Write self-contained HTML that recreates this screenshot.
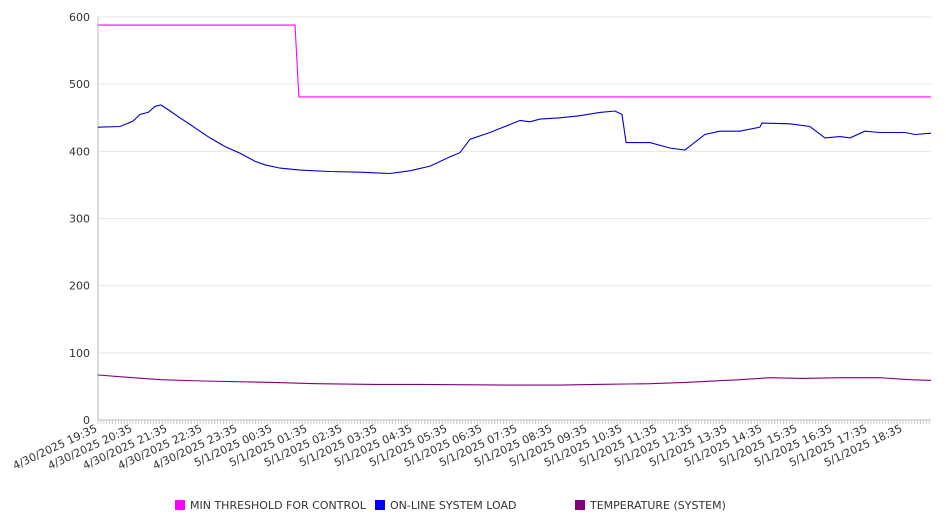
<!DOCTYPE html>
<html><head><meta charset="utf-8"><style>
html,body{margin:0;padding:0;background:#fff;}
svg{display:block;font-family:"DejaVu Sans","Liberation Sans",sans-serif;}
</style></head><body>
<svg id="chart" width="946" height="526"></svg>
<script>
// data (time in hours since 4/30/2025 19:35)
const yTicks=[0,100,200,300,400,500,600];
const xLabels=["4/30/2025 19:35","4/30/2025 20:35","4/30/2025 21:35","4/30/2025 22:35","4/30/2025 23:35","5/1/2025 00:35","5/1/2025 01:35","5/1/2025 02:35","5/1/2025 03:35","5/1/2025 04:35","5/1/2025 05:35","5/1/2025 06:35","5/1/2025 07:35","5/1/2025 08:35","5/1/2025 09:35","5/1/2025 10:35","5/1/2025 11:35","5/1/2025 12:35","5/1/2025 13:35","5/1/2025 14:35","5/1/2025 15:35","5/1/2025 16:35","5/1/2025 17:35","5/1/2025 18:35"];
const threshTimes=[0,5.63,5.74,23.8];
const threshVals=[588,588,481,481];
const loadTimes=[0,0.63,1,1.2,1.43,1.63,1.8,2.06,2.34,2.63,2.91,3.2,3.63,4.06,4.49,4.77,5.2,5.77,6.63,7.49,8.34,8.91,9.49,10.06,10.34,10.63,11.2,11.77,12.06,12.34,12.63,13.2,13.77,14.34,14.77,14.97,15.09,15.77,16.34,16.77,16.97,17.34,17.77,18.34,18.91,18.97,19.77,20.34,20.77,21.2,21.49,21.91,22.34,23.06,23.34,23.8];
const loadVals=[436,437,445,455,458,467,469,460,450,440,430,420,407,397,385,380,375,372,370,369,367,371,378,392,398,418,428,440,446,444,448,450,453,458,460,455,413,413,405,402,410,425,430,430,436,442,441,437,420,422,420,430,428,428,425,427];
const tempTimes=[0,1,1.8,3,5,6.23,7.9,9.2,11.77,12.63,13.2,14.2,15.77,16.77,18.34,19.2,20.1,21.2,22.34,23.2,23.8];
const tempVals=[67,63,60,58,56,54,53,53,52,52,52,53,54,56,60,63,62,63,63,60,59];

const svg=document.getElementById('chart');
const NS='http://www.w3.org/2000/svg';
const X0=98,X1=931,Y0=420,Y1=17,TMAX=23.8,VMAX=600;
function sx(t){return X0+t*(X1-X0)/TMAX;}
function sy(v){return Y0-v*(Y0-Y1)/VMAX;}
function mk(tag,attrs,parent){const e=document.createElementNS(NS,tag);for(const k in attrs)e.setAttribute(k,attrs[k]);(parent||svg).appendChild(e);return e;}

yTicks.forEach(v=>{
  const g=mk('line',{x1:X0,x2:X1,y1:sy(v),y2:sy(v),stroke:v===0?'#bbb':'#e6e6e6','stroke-width':1});
  
  
  const t=mk('text',{x:90,y:sy(v)+4,'text-anchor':'end','font-size':11,fill:'#333'});
  t.textContent=v;
  
  
});
const ax=mk('line',{x1:X0,x2:X0,y1:Y1,y2:Y0,stroke:'#bbb'});


for(let i=0;i<=Math.floor(TMAX*12);i++){
  const x=sx(i/12);
  const tk=mk('line',{x1:x,x2:x,y1:Y0,y2:Y0+4,stroke:'#ccc'});
  
  
}
xLabels.forEach((s,i)=>{
  const x=sx(i);
  const t=mk('text',{x:x,y:Y0+11,'text-anchor':'end','font-size':11,fill:'#333',transform:`rotate(-25 ${x} ${Y0+11})`});
  t.textContent=s;
  
  
});
function series(ts,vs,color,name){
  const d=ts.map((t,i)=>(i?'L':'M')+sx(t).toFixed(1)+' '+sy(vs[i]).toFixed(1)).join(' ');
  const p=mk('path',{d:d,fill:'none',stroke:color,'stroke-width':1.1});
  
  
}
series(tempTimes,tempVals,'#800080','temperature-line');
series(threshTimes,threshVals,'#ff00ff','min-threshold-line');
series(loadTimes,loadVals,'#0000cc','online-load-line');

const legend=[['MIN THRESHOLD FOR CONTROL','#ff00ff',175],['ON-LINE SYSTEM LOAD','#0000ff',375],['TEMPERATURE (SYSTEM)','#800080',575]];
legend.forEach(([label,c,x])=>{
  const g=mk('g',{});
  
  
  mk('rect',{x:x,y:500,width:10,height:10,fill:c},g);
  const t=mk('text',{x:x+15,y:509,'font-size':11,fill:'#333'},g);
  t.textContent=label;
});
</script>
</body></html>
